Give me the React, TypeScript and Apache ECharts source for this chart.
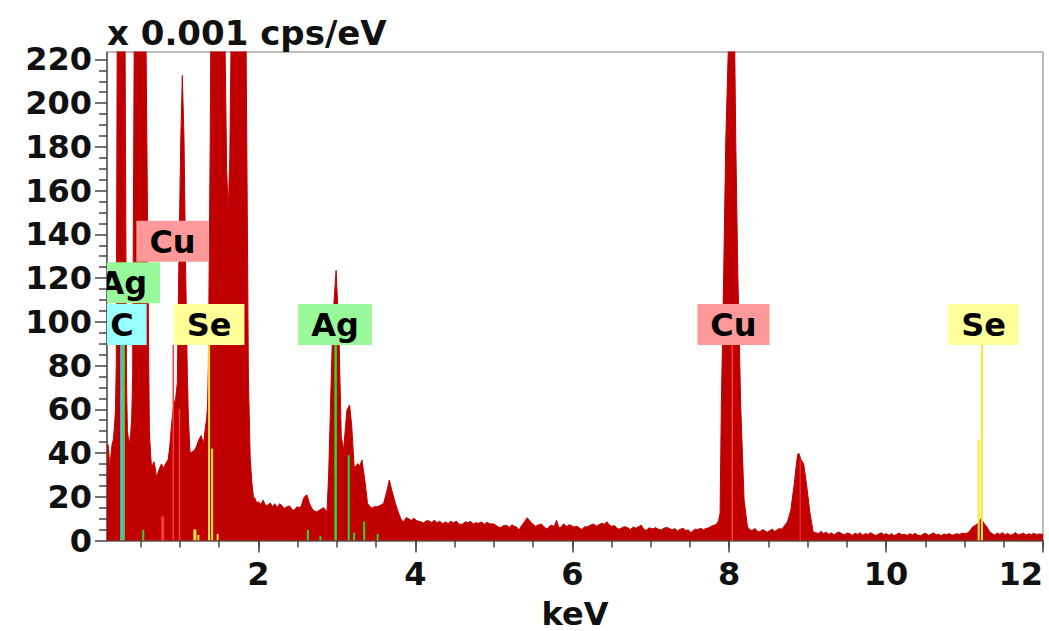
import React, { useEffect, useRef } from "react";
import * as echarts from "echarts";

// ---- spectrum (keV, counts x 0.001 cps/eV) ----
const spectrumKeV = [
  0.07, 0.08, 0.09, 0.1, 0.108, 0.12, 0.135, 0.15, 0.165, 0.178, 0.188, 0.2, 0.25, 0.3, 0.318, 0.33,
  0.345, 0.355, 0.37, 0.385, 0.397, 0.417, 0.49, 0.567, 0.6, 0.61, 0.625, 0.64, 0.655, 0.67, 0.685,
  0.7, 0.72, 0.745, 0.765, 0.79, 0.815, 0.85, 0.87, 0.895, 0.92, 0.945, 0.966, 0.984, 1.01, 1.03,
  1.052, 1.073, 1.094, 1.107, 1.128, 1.15, 1.18, 1.21, 1.24, 1.27, 1.3, 1.325, 1.341, 1.352, 1.362,
  1.385, 1.395, 1.48, 1.57, 1.595, 1.615, 1.635, 1.655, 1.75, 1.84, 1.858, 1.872, 1.895, 1.915, 1.936,
  1.96, 1.98, 2.0, 2.03, 2.06, 2.09, 2.12, 2.15, 2.18, 2.21, 2.24, 2.27, 2.3, 2.33, 2.36, 2.4, 2.43,
  2.46, 2.49, 2.52, 2.55, 2.575, 2.6, 2.62, 2.65, 2.68, 2.71, 2.745, 2.78, 2.81, 2.83, 2.855, 2.873,
  2.895, 2.915, 2.95, 2.99, 3.026, 3.056, 3.085, 3.128, 3.162, 3.19, 3.22, 3.245, 3.264, 3.29, 3.32,
  3.362, 3.39, 3.42, 3.447, 3.48, 3.51, 3.55, 3.596, 3.64, 3.668, 3.7, 3.745, 3.787, 3.82, 3.85, 3.885,
  3.92, 3.95, 3.98, 4.02, 4.064, 4.106, 4.14, 4.17, 4.21, 4.24, 4.277, 4.31, 4.35, 4.38, 4.42, 4.45,
  4.49, 4.52, 4.56, 4.6, 4.64, 4.67, 4.7, 4.74, 4.77, 4.8, 4.84, 4.88, 4.915, 4.95, 5.0, 5.04, 5.08,
  5.12, 5.17, 5.2, 5.23, 5.26, 5.29, 5.32, 5.35, 5.38, 5.425, 5.47, 5.5, 5.53, 5.57, 5.61, 5.64, 5.68,
  5.71, 5.74, 5.77, 5.8, 5.82, 5.84, 5.87, 5.89, 5.93, 5.96, 5.98, 6.02, 6.06, 6.09, 6.12, 6.16, 6.19,
  6.23, 6.27, 6.31, 6.34, 6.38, 6.41, 6.44, 6.47, 6.5, 6.54, 6.57, 6.6, 6.64, 6.67, 6.71, 6.74, 6.78,
  6.81, 6.84, 6.88, 6.91, 6.94, 6.98, 7.03, 7.06, 7.1, 7.13, 7.17, 7.2, 7.24, 7.27, 7.31, 7.34, 7.38,
  7.41, 7.45, 7.48, 7.51, 7.54, 7.57, 7.6, 7.64, 7.67, 7.7, 7.74, 7.78, 7.81, 7.84, 7.865, 7.884, 7.9,
  7.93, 7.957, 7.986, 8.03, 8.06, 8.084, 8.11, 8.148, 8.19, 8.233, 8.26, 8.29, 8.33, 8.36, 8.39, 8.43,
  8.46, 8.49, 8.52, 8.55, 8.58, 8.61, 8.64, 8.67, 8.7, 8.744, 8.786, 8.83, 8.86, 8.875, 8.89, 8.915,
  8.95, 8.99, 9.03, 9.07, 9.1, 9.14, 9.17, 9.2, 9.24, 9.27, 9.3, 9.34, 9.37, 9.4, 9.44, 9.47, 9.5,
  9.54, 9.57, 9.6, 9.64, 9.67, 9.7, 9.74, 9.77, 9.8, 9.84, 9.87, 9.9, 9.94, 9.97, 10.0, 10.04, 10.07,
  10.1, 10.14, 10.17, 10.2, 10.24, 10.27, 10.3, 10.34, 10.37, 10.4, 10.44, 10.47, 10.5, 10.54, 10.57,
  10.6, 10.64, 10.67, 10.7, 10.74, 10.77, 10.8, 10.84, 10.87, 10.9, 10.94, 10.97, 11.0, 11.04, 11.07,
  11.105, 11.14, 11.17, 11.2, 11.21, 11.23, 11.25, 11.28, 11.32, 11.35, 11.38, 11.42, 11.45, 11.48,
  11.52, 11.55, 11.58, 11.62, 11.65, 11.68, 11.72, 11.75, 11.78, 11.82, 11.85, 11.88, 11.92, 11.95, 12.0,
];
const spectrumCounts = [
  43, 44, 42, 36, 33, 39, 44, 46, 52, 60, 80, 230, 500, 230, 75, 50,
  46, 44.5, 48, 56, 75, 230, 900, 230, 90, 50, 40, 32, 35, 36, 33,
  29, 31, 33.5, 35, 33, 35, 37, 43, 54, 62, 65, 72, 122, 183, 212.6,
  183, 122, 76, 56.5, 40, 40.5, 41, 43, 46, 48, 44, 52, 56, 62, 80,
  180, 240, 600, 240, 170, 150, 175, 240, 800, 240, 150, 75, 38, 27, 20,
  19, 17, 17.7, 16.5, 18.5, 16, 16.2, 17.2, 15.5, 16.8, 15, 16.8, 16, 14.6, 15.4, 15.8, 14,
  13.9, 15.4, 15, 16, 19.3, 20.5, 20.8, 17, 14.8, 13.5, 13, 14, 14.5, 15, 14, 12.5,
  30, 56.5, 102, 123.5, 94.7, 47.4, 41.3, 59.6, 62, 52, 33.7, 34, 35.2, 34, 36.8,
  26, 17, 15.5, 14.8, 15.5, 15.4, 16, 17, 23, 27.6, 23, 17, 12.5, 9.5, 8.6, 10.5,
  9.8, 9.2, 10.2, 9, 8.6, 8, 9, 9, 8.2, 9.3, 8.1, 8.8, 7.6, 8.5, 7.8, 8.8,
  8.1, 8.9, 7.4, 7.5, 8.6, 8, 8.8, 7.5, 8.2, 7.8, 8.5, 7.4, 8.3, 7.6, 7.6, 6.6, 5.7,
  6.8, 6.8, 6, 7.2, 6.5, 6.2, 4.8, 6.5, 8, 10.4, 8.5, 7.4, 6.5, 7.2, 7.5, 6.2, 5.2,
  6.6, 7, 6.4, 9.3, 7, 5.5, 6.8, 7.6, 6.4, 7.2, 7, 6.2, 6.5, 5.8, 5, 6.3, 6.2,
  7, 7.5, 6.6, 7.2, 7.9, 7.4, 8.6, 7.2, 6.5, 6.8, 5.6, 5.2, 6, 6.3, 5.8, 5, 6.2,
  5.6, 6.2, 7, 5.2, 4.6, 5.8, 5.3, 5.9, 5.1, 4.8, 5.6, 6, 5.5, 4.9, 5.4, 4.4, 5.2,
  5.6, 4.5, 4.9, 3.5, 4.6, 5.2, 5, 5.6, 4.8, 5.5, 5.8, 6.7, 7, 7.5, 9, 12.5, 61,
  122, 183, 221, 270, 260, 183, 122, 61, 18.5, 6.3, 5, 4.5, 5.5, 4.2, 4, 5,
  4.3, 3.8, 4.6, 5.2, 4.2, 4.8, 5.5, 5.2, 6.5, 8.6, 14, 26, 36, 39.5, 39.8, 37,
  35, 24.5, 12.5, 4, 3.6, 3.2, 4.2, 3.2, 3.8, 2.8, 3.5, 2.6, 3.4, 3.9, 3, 2.6, 3.4,
  3.1, 2.3, 3.3, 2.8, 3.6, 2.4, 3.2, 2.7, 3.6, 2.8, 2.3, 2.9, 3.5, 2.6, 3.1, 2.4, 3.2,
  2.2, 2.9, 3.4, 2.6, 2.8, 2.3, 3.1, 2.6, 3.3, 2.5, 2.2, 2.9, 3.3, 2.4, 2.8,
  3.5, 2.6, 2.9, 2.2, 3, 2.6, 3.2, 2.4, 2.7, 3.1, 2.8, 3.4, 3.2, 3.4, 4.6,
  6.3, 7, 7.8, 9.5, 10, 9, 7.8, 6.5, 4, 3.2, 2.5, 3.4, 2.8, 3.6,
  2.6, 3.3, 2.4, 2.9, 3.7, 2.6, 2.9, 3.4, 2.5, 3.1, 2.6, 3.3, 2.7, 3, 2.8,
];

// ---- axis ticks ----
const xLabelValues = [2, 4, 6, 8, 10, 12];
const xMinorValues = [0.5, 1, 1.5, 2, 2.5, 3, 3.5, 4, 4.5, 5, 5.5, 6, 6.5, 7, 7.5, 8, 8.5, 9, 9.5, 10, 10.5, 11, 11.5, 12];
const yLabelValues = [0, 20, 40, 60, 80, 100, 120, 140, 160, 180, 200, 220];
const yMinorValues = [
  5, 10, 15, 25, 30, 35, 45, 50, 55, 65, 70, 75, 85, 90, 95, 105, 110, 115, 125, 130, 135,
  145, 150, 155, 165, 170, 175, 185, 190, 195, 205, 210, 215,
];

// ---- element marker lines ----
const markerKeV = [0.257, 0.285, 0.532, 0.78, 0.915, 0.994, 1.19, 1.234, 1.371, 1.41, 1.48, 2.63, 2.79, 2.984, 3.151, 3.22, 3.348, 3.52, 8.04, 8.905, 11.18, 11.222];
const markerHeight = [89.4, 89.4, 4.8, 11, 89.4, 60, 5, 2.5, 89.4, 42, 3, 4.8, 2, 89.4, 39, 3.5, 8.6, 3, 89.4, 37, 46, 89.4];
const markerElement = ["C", "AgM", "Ag", "Cu", "Cu", "Cu", "Se", "Se", "Se", "Se", "Se", "Ag", "Ag", "Ag", "Ag", "Ag", "Ag", "Ag", "Cu", "Cu", "Se", "Se"];
const markerWidth = [3, 2, 2, 3, 1.5, 1.5, 3, 2, 2, 2, 2, 2, 2, 2.5, 2, 2, 2, 2, 1.5, 1, 2, 2];

// ---- element label boxes ----
const labelText = ["C", "Ag", "Cu", "Se", "Ag", "Cu", "Se"];
const labelKeV = [0.26, 0.278, 0.905, 1.371, 2.976, 8.055, 11.243];
const labelBase = [89.4, 108.5, 127.5, 89.4, 89.4, 89.4, 89.4];

const boxColor: Record<string, string> = { C: "#99ffff", Ag: "#99f899", Cu: "#ff9999", Se: "#ffff99" };
const lineColor: Record<string, string> = { C: "#3cc8d4", AgM: "#70c030", Ag: "#22e022", Cu: "#ff3a3a", Se: "#ffe830" };

const FONT = '"DejaVu Sans", Verdana, sans-serif';
const RED = "#c00000";

export default function App() {
  const ref = useRef<HTMLDivElement>(null);
  useEffect(() => {
    if (!ref.current) return;
    const chart = echarts.init(ref.current, null, { renderer: "svg" });
    const xMin = 0.07;
    const xMax = 12.0;
    const yMax = 223.4;
    const labelStyle = { color: "#111", fontSize: 32, fontWeight: "bold" as const, fontFamily: FONT };
    const option: any = {
      animation: false,
      backgroundColor: "#ffffff",
      grid: {
        left: 107, right: 6, top: 52, bottom: 90.5,
        show: true, borderColor: "#7a7a7a", borderWidth: 1, backgroundColor: "transparent",
        containLabel: false, outerBoundsMode: "none",
      },
      graphic: [
        {
          type: "text", x: 107, y: 33,
          style: { text: "x 0.001 cps/eV", font: `bold 34px ${FONT}`, fill: "#111", verticalAlign: "middle" },
        },
      ],
      xAxis: [
        {
          type: "value", min: xMin, max: xMax, position: "bottom",
          name: "keV", nameLocation: "middle", nameGap: 57,
          nameTextStyle: { ...labelStyle },
          axisLine: { show: true, lineStyle: { color: "#555", width: 1.5 } },
          axisTick: { show: true, customValues: xLabelValues, length: 12, lineStyle: { color: "#444", width: 1.5 } },
          axisLabel: { show: true, customValues: xLabelValues, margin: 17, alignMaxLabel: "right", ...labelStyle },
          splitLine: { show: false },
        },
        {
          type: "value", min: xMin, max: xMax, position: "bottom",
          axisLine: { show: false },
          axisTick: { show: true, customValues: xMinorValues, length: 7, lineStyle: { color: "#444", width: 1.5 } },
          axisLabel: { show: false },
          splitLine: { show: false },
        },
      ],
      yAxis: [
        {
          type: "value", min: 0, max: yMax, position: "left",
          axisLine: { show: true, lineStyle: { color: "#555", width: 1.5 } },
          axisTick: { show: true, customValues: yLabelValues, length: 12, lineStyle: { color: "#444", width: 1.5 } },
          axisLabel: { show: true, customValues: yLabelValues, margin: 15, ...labelStyle },
          splitLine: { show: false },
        },
        {
          type: "value", min: 0, max: yMax, position: "left",
          axisLine: { show: false },
          axisTick: { show: true, customValues: yMinorValues, length: 8, lineStyle: { color: "#444", width: 1.5 } },
          axisLabel: { show: false },
          splitLine: { show: false },
        },
      ],
      series: [
        {
          type: "line",
          xAxisIndex: 0, yAxisIndex: 0,
          data: spectrumKeV.map((k, i) => [k, spectrumCounts[i]]),
          showSymbol: false, symbol: "none",
          lineStyle: { color: RED, width: 1 },
          areaStyle: { color: RED, opacity: 1 },
          itemStyle: { color: RED },
          clip: true, z: 2,
        },
        {
          type: "custom",
          xAxisIndex: 0, yAxisIndex: 0,
          clip: true, z: 3,
          data: markerKeV.map((k, i) => [k, markerHeight[i]]),
          encode: { x: 0, y: 1 },
          renderItem: (params: any, api: any) => {
            const i = params.dataIndex;
            const p0 = api.coord([api.value(0), 0]);
            const p1 = api.coord([api.value(0), api.value(1)]);
            const w = markerWidth[i];
            return {
              type: "rect",
              shape: { x: p0[0] - w / 2, y: p1[1], width: w, height: p0[1] - p1[1] },
              style: { fill: lineColor[markerElement[i]] },
            };
          },
        },
        {
          type: "custom",
          xAxisIndex: 0, yAxisIndex: 0,
          clip: true, z: 4,
          data: labelKeV.map((k, i) => [k, labelBase[i]]),
          encode: { x: 0, y: 1 },
          renderItem: (params: any, api: any) => {
            const i = params.dataIndex;
            const p = api.coord([api.value(0), api.value(1)]);
            return {
              type: "text",
              x: p[0], y: p[1],
              style: {
                text: labelText[i],
                font: `bold 32px ${FONT}`,
                fill: "#000",
                align: "center",
                verticalAlign: "bottom",
                backgroundColor: boxColor[labelText[i]],
                padding: [5, 13, 4, 13],
              },
            };
          },
        },
      ],
    };
    chart.setOption(option);
    return () => chart.dispose();
  }, []);
  return (
    <div
      ref={ref}
      style={{ position: "absolute", left: 0, top: 0, width: 1049, height: 631, background: "#fff" }}
    />
  );
}
